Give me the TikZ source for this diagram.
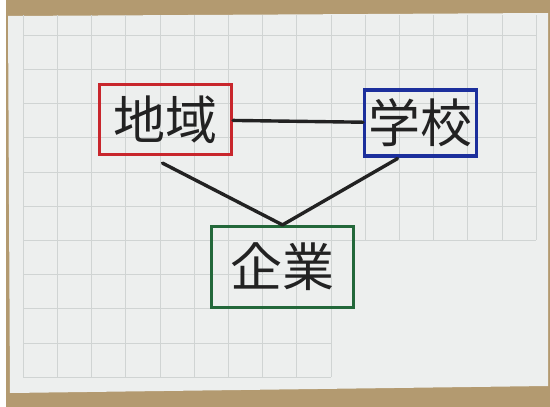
\documentclass[tikz,border=0pt]{standalone}
\usepackage{fontspec}
\newfontfamily\cjk{Noto Sans CJK JP}
\definecolor{redc}{HTML}{C8262C}
\definecolor{bluec}{HTML}{1C2F9C}
\definecolor{greenc}{HTML}{23683A}
\definecolor{ink}{HTML}{222222}
\definecolor{gridc}{HTML}{D0D4D3}
\definecolor{paperc}{HTML}{EDEFEE}
\definecolor{tanc}{HTML}{B39A70}
\begin{document}
\begin{tikzpicture}[x=1pt,y=-1pt,
  box/.style={draw, line width=3.2pt, inner sep=0pt, font=\cjk\fontsize{52}{52}\selectfont, text=ink},
  link/.style={line width=3.4pt, draw=ink, line cap=round},
  gridline/.style={draw=gridc, line width=0.6pt}]
\useasboundingbox (0,0) rectangle (550,407);
\fill[white] (0,0) rectangle (550,407);
\fill[tanc] (6,0) rectangle (550,407);
\fill[paperc] (8,16) -- (548,13) -- (548,386) -- (10,393) -- cycle;
\foreach \i in {0,...,15} {
  \pgfmathsetmacro\xx{23+34.2*\i}
  \ifnum\i>9
    \draw[gridline] (\xx,15) -- (\xx,240);
  \else
    \draw[gridline] (\xx,15) -- (\xx,377);
  \fi
}
\foreach \k in {0,...,10} {
  \pgfmathsetmacro\yy{35+34.2*\k}
  \ifnum\k>6
    \draw[gridline] (23,\yy) -- (331,\yy);
  \else
    \draw[gridline] (23,\yy) -- (536,\yy);
  \fi
}
\node[box, draw=redc, minimum width=132pt, minimum height=70pt] (chiiki) at (165.5,119.5) {地域};
\node[box, draw=bluec, minimum width=112pt, minimum height=66pt] (gakko) at (420.5,123) {学校};
\node[box, draw=greenc, minimum width=142pt, minimum height=81pt] (kigyo) at (282.5,267) {企業};
\coordinate (apex) at (kigyo.north);
\draw[link] (chiiki) -- (gakko);
\draw[link] ([shift={(-3,7)}]chiiki.south) -- (apex);
\draw[link] ([shift={(-23,1)}]gakko.south) -- (apex);
\end{tikzpicture}
\end{document}
